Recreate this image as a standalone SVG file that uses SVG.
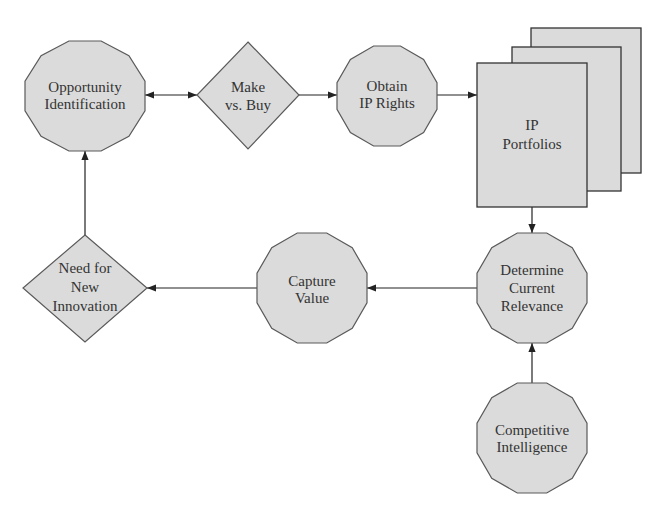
<svg xmlns="http://www.w3.org/2000/svg" width="665" height="511" viewBox="0 0 665 511">
<defs>
<style>
.shape{fill:#dbdbdb;stroke:#5a5a5a;stroke-width:1.2}
.page{fill:#dbdbdb;stroke:#333;stroke-width:1.3}
.lbl{font-family:"Liberation Serif","Times New Roman",serif;font-size:15px;fill:#333;text-anchor:middle}
.conn{stroke:#222;stroke-width:1.2;fill:none}
</style>
<marker id="ah" viewBox="0 0 10 8" refX="10" refY="4" markerWidth="9" markerHeight="8" markerUnits="userSpaceOnUse" orient="auto-start-reverse">
<path d="M0,0 L10,4 L0,8 z" fill="#222"/>
</marker>
</defs>
<rect width="665" height="511" fill="#fff"/>
<g id="connectors">
<line class="conn" x1="145" y1="95" x2="197" y2="95" marker-start="url(#ah)" marker-end="url(#ah)"/>
<line class="conn" x1="299" y1="95" x2="337" y2="95" marker-end="url(#ah)"/>
<line class="conn" x1="437" y1="95" x2="477" y2="95" marker-end="url(#ah)"/>
<line class="conn" x1="532" y1="207" x2="532" y2="233" marker-end="url(#ah)"/>
<line class="conn" x1="477" y1="288" x2="367" y2="288" marker-end="url(#ah)"/>
<line class="conn" x1="257" y1="288" x2="147" y2="288" marker-end="url(#ah)"/>
<line class="conn" x1="85" y1="235" x2="85" y2="151" marker-end="url(#ah)"/>
<line class="conn" x1="532" y1="383" x2="532" y2="343" marker-end="url(#ah)"/>
</g>
<g id="opportunity">
<polygon class="shape" points="145,81.26 145,110.74 128.92,136.26 101.08,151 68.92,151 41.08,136.26 25,110.74 25,81.26 41.08,55.74 68.92,41 101.08,41 128.92,55.74"/>
<text class="lbl" x="85" y="92">Opportunity</text>
<text class="lbl" x="85" y="109">Identification</text>
</g>
<g id="make-vs-buy">
<polygon class="shape" points="248,42 299,95 248,149 197,95"/>
<text class="lbl" x="248" y="92">Make</text>
<text class="lbl" x="248" y="110">vs. Buy</text>
</g>
<g id="obtain-ip">
<polygon class="shape" points="437,82.6 437,109.4 423.6,132.6 400.4,146 373.6,146 350.4,132.6 337,109.4 337,82.6 350.4,59.4 373.6,46 400.4,46 423.6,59.4"/>
<text class="lbl" x="387" y="91">Obtain</text>
<text class="lbl" x="387" y="108">IP Rights</text>
</g>
<g id="ip-portfolios">
<rect class="page" x="531" y="28" width="110" height="145"/>
<rect class="page" x="512" y="47" width="109" height="144"/>
<rect class="page" x="477" y="63" width="110" height="144"/>
<text class="lbl" x="532" y="130">IP</text>
<text class="lbl" x="532" y="149">Portfolios</text>
</g>
<g id="determine-relevance">
<polygon class="shape" points="587,273.26 587,302.74 572.26,328.26 546.74,343 517.26,343 491.74,328.26 477,302.74 477,273.26 491.74,247.74 517.26,233 546.74,233 572.26,247.74"/>
<text class="lbl" x="532" y="275">Determine</text>
<text class="lbl" x="532" y="293">Current</text>
<text class="lbl" x="532" y="311">Relevance</text>
</g>
<g id="capture-value">
<polygon class="shape" points="367,273.26 367,302.74 352.26,328.26 326.74,343 297.26,343 271.74,328.26 257,302.74 257,273.26 271.74,247.74 297.26,233 326.74,233 352.26,247.74"/>
<text class="lbl" x="312" y="286">Capture</text>
<text class="lbl" x="312" y="303">Value</text>
</g>
<g id="need-innovation">
<polygon class="shape" points="85,235 147,288 85,342 23,288"/>
<text class="lbl" x="85" y="273">Need for</text>
<text class="lbl" x="85" y="292">New</text>
<text class="lbl" x="85" y="311">Innovation</text>
</g>
<g id="competitive-intelligence">
<polygon class="shape" points="587,423.26 587,452.74 572.26,478.26 546.74,493 517.26,493 491.74,478.26 477,452.74 477,423.26 491.74,397.74 517.26,383 546.74,383 572.26,397.74"/>
<text class="lbl" x="532" y="435">Competitive</text>
<text class="lbl" x="532" y="452">Intelligence</text>
</g>
</svg>
